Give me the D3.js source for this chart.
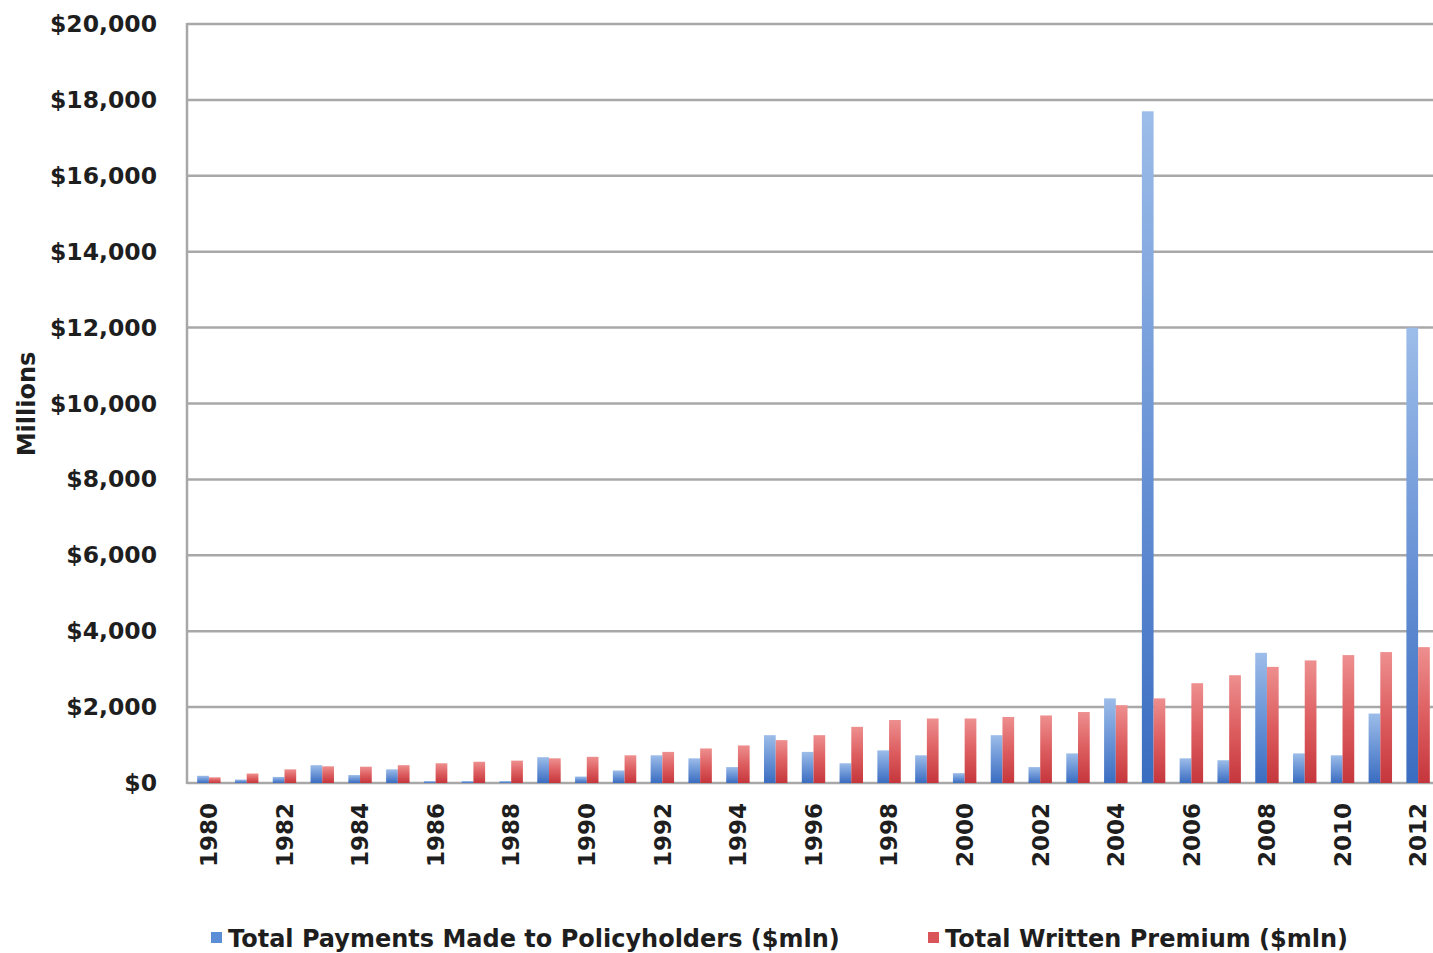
<!DOCTYPE html>
<html>
<head>
<meta charset="utf-8">
<script src="https://cdn.jsdelivr.net/npm/d3@7"></script>
<style>
  html, body { margin: 0; padding: 0; background: #fff; }
  svg { display: block; }
  text { font-family: "DejaVu Sans", sans-serif; font-weight: bold; fill: #1e1e1e; }
</style>
</head>
<body>
<svg id="chart" width="1433" height="953"></svg>
<script>
// Flood insurance: yearly claim payments vs. written premium, in $ millions
const years = d3.range(1980, 2013).map(String);
const payments = [190, 90, 160, 470, 210, 360, 50, 50, 50, 680, 170, 330, 730, 650, 420,
                  1260, 820, 520, 860, 730, 260, 1260, 420, 780, 2230, 17700, 650, 600,
                  3430, 780, 730, 1830, 12000];
const premium  = [150, 250, 360, 440, 430, 470, 520, 560, 590, 650, 690, 730, 820, 910, 990,
                  1130, 1260, 1480, 1660, 1700, 1700, 1740, 1780, 1870, 2050, 2230, 2630, 2840,
                  3060, 3230, 3370, 3450, 3580];
const seriesNames = ["Total Payments Made to Policyholders ($mln)", "Total Written Premium ($mln)"];
const yTicks = d3.range(0, 20001, 2000);
const xTickYears = years.filter((d, i) => i % 2 === 0);

const svg = d3.select("#chart");
const plot = { left: 187, right: 1437, top: 24, bottom: 783 };

const x = d3.scaleBand().domain(years).range([plot.left + 3, plot.right]).paddingInner(0.38).paddingOuter(0.19);
const x1 = d3.scaleBand().domain([0, 1]).range([0, x.bandwidth()]);
const y = d3.scaleLinear().domain([0, 20000]).range([plot.bottom, plot.top]);

// bar fills: lighter toward the top of each bar
const defs = svg.append("defs");
const grads = [
  { id: "gBlue", stops: ["#9dbde9", "#6a94d6", "#3a6cc0"] },
  { id: "gRed",  stops: ["#ee8f8f", "#dd5e60", "#c5363c"] }
];
grads.forEach(g => {
  const lgr = defs.append("linearGradient").attr("id", g.id)
    .attr("x1", 0).attr("y1", 0).attr("x2", 0).attr("y2", 1);
  g.stops.forEach((c, i) => lgr.append("stop").attr("offset", i / (g.stops.length - 1)).attr("stop-color", c));
});
const fills = ["url(#gBlue)", "url(#gRed)"];
const legendColors = ["#5b8ed6", "#d9555a"];

// gridlines
svg.append("g")
  .selectAll("line").data(yTicks).join("line")
  .attr("x1", plot.left).attr("x2", 1433)
  .attr("y1", d => y(d)).attr("y2", d => y(d))
  .attr("stroke", "#a8a8a8").attr("stroke-width", 2.5);

// left axis line
svg.append("line")
  .attr("x1", plot.left).attr("x2", plot.left).attr("y1", plot.top - 1).attr("y2", plot.bottom + 1)
  .attr("stroke", "#a8a8a8").attr("stroke-width", 2.5);

// bars
const series = [payments, premium];
const groups = svg.append("g").selectAll("g").data(years).join("g")
  .attr("transform", d => `translate(${x(d)},0)`);
groups.selectAll("rect")
  .data((d, i) => series.map((s, k) => ({ k, v: s[i] })))
  .join("rect")
  .attr("x", d => x1(d.k))
  .attr("width", x1.bandwidth())
  .attr("y", d => y(d.v))
  .attr("height", d => y(0) - y(d.v))
  .attr("fill", d => fills[d.k]);

// y axis labels
const yAxis = d3.axisLeft(y).tickValues(yTicks).tickFormat(d3.format("$,")).tickSize(0).tickPadding(30);
const yg = svg.append("g").attr("transform", `translate(${plot.left},0)`).call(yAxis);
yg.select(".domain").remove();
yg.selectAll("text").style("font-size", "23.5px").style("font-family", "'DejaVu Sans', sans-serif");

// x axis labels (every other year, rotated)
const xAxis = d3.axisBottom(x).tickValues(xTickYears).tickSize(0).tickPadding(0);
const xg = svg.append("g").attr("transform", `translate(0,${plot.bottom})`).call(xAxis);
xg.select(".domain").remove();
xg.selectAll("text")
  .style("font-size", "23px").style("font-family", "'DejaVu Sans', sans-serif")
  .attr("text-anchor", "end")
  .attr("transform", "rotate(-90)")
  .attr("x", -20).attr("y", 0).attr("dy", "0.36em")
  .attr("dx", 0);

// y axis title
svg.append("text")
  .attr("transform", "translate(35,404) rotate(-90)")
  .attr("text-anchor", "middle")
  .style("font-size", "24px")
  .text("Millions");

// legend
const legendItems = [
  { x: 211, name: seriesNames[0], c: legendColors[0] },
  { x: 928, name: seriesNames[1], c: legendColors[1] }
];
const lg = svg.append("g").selectAll("g").data(legendItems).join("g")
  .attr("transform", d => `translate(${d.x},938)`);
lg.append("rect").attr("x", 0).attr("y", -6).attr("width", 11).attr("height", 11).attr("fill", d => d.c);
lg.append("text").attr("x", 17).attr("dy", "0.36em").style("font-size", "24px").text(d => d.name);
</script>
</body>
</html>
